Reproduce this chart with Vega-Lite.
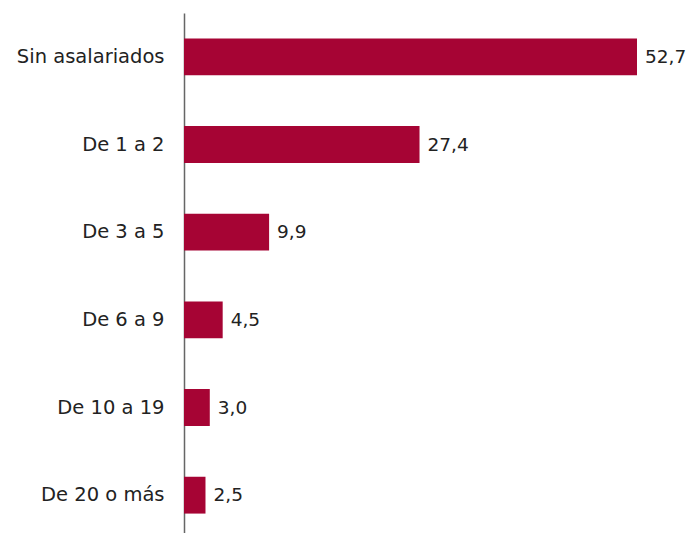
{
  "$schema": "https://vega.github.io/schema/vega-lite/v6.json",
  "autosize": {"type": "none"},
  "padding": {"left": 184, "top": 13, "right": 49, "bottom": 0},
  "width": 453,
  "height": 526,
  "background": "white",
  "config": {
    "view": {"stroke": null},
    "locale": {"number": {"decimal": ",", "thousands": ".", "grouping": [3], "currency": ["", " €"]}},
    "font": "DejaVu Sans"
  },
  "data": {
    "values": [
      {"categoria": "Sin asalariados", "valor": 52.7},
      {"categoria": "De 1 a 2", "valor": 27.4},
      {"categoria": "De 3 a 5", "valor": 9.9},
      {"categoria": "De 6 a 9", "valor": 4.5},
      {"categoria": "De 10 a 19", "valor": 3.0},
      {"categoria": "De 20 o más", "valor": 2.5}
    ]
  },
  "encoding": {
    "y": {
      "field": "categoria",
      "type": "nominal",
      "sort": null,
      "scale": {"paddingInner": 0.58, "paddingOuter": 0.29},
      "axis": {
        "title": null,
        "ticks": false,
        "labelPadding": 20,
        "labelFontSize": 19.5,
        "labelColor": "#222222",
        "labelFont": "DejaVu Sans",
        "domainColor": "#666666",
        "domainWidth": 1.5
      }
    },
    "x": {
      "field": "valor",
      "type": "quantitative",
      "scale": {"domain": [0, 52.7], "nice": false},
      "axis": null
    }
  },
  "layer": [
    {"mark": {"type": "bar", "color": "#A60434"}},
    {
      "mark": {"type": "text", "align": "left", "dx": 8, "fontSize": 18.5, "color": "#222222", "font": "DejaVu Sans"},
      "encoding": {"text": {"field": "valor", "type": "quantitative", "format": ".1f"}}
    }
  ]
}
